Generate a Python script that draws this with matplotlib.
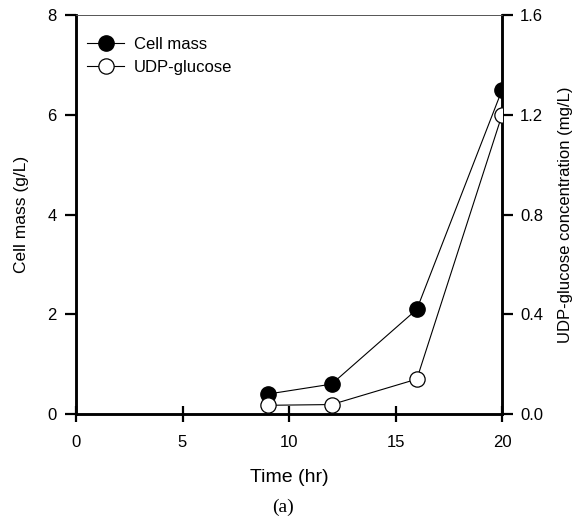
import matplotlib.pyplot as plt

plt.rcParams['font.family'] = ['Liberation Sans', 'DejaVu Sans']

# data
time = [9, 12, 16, 20]
cell_mass = [0.4, 0.6, 2.1, 6.5]
udp_glucose = [0.035, 0.038, 0.14, 1.2]

fig = plt.figure(figsize=(5.82, 5.2), dpi=100)
ax = fig.add_axes([0.1306, 0.2038, 0.732, 0.767])
ax2 = ax.twinx()

l1, = ax.plot(time, cell_mass, '-o', color='k', lw=0.8, ms=11,
              mfc='k', mec='k', label='Cell mass', zorder=3)
l2, = ax2.plot(time, udp_glucose, '-o', color='k', lw=0.8, ms=11,
               mfc='white', mec='k', mew=0.9, label='UDP-glucose', zorder=3)

ax.set_xlim(0, 20)
ax.set_ylim(0, 8)
ax2.set_ylim(0, 1.6)
ax.set_xticks([0, 5, 10, 15, 20])
ax.set_yticks([0, 2, 4, 6, 8])
ax2.set_yticks([0.0, 0.4, 0.8, 1.2, 1.6])
ax2.set_yticklabels(['0.0', '0.4', '0.8', '1.2', '1.6'])

for a in (ax, ax2):
    a.tick_params(direction='out', length=8, width=1.6, labelsize=12)
    for s in a.spines.values():
        s.set_linewidth(1.8)
    a.spines['top'].set_linewidth(0.6)
    a.spines['top'].set_color('#555555')
ax.tick_params(axis='y', pad=6)
ax2.tick_params(axis='y', pad=5)
ax.tick_params(axis='x', direction='inout', length=12, pad=9)

ax.set_xlabel('Time (hr)', fontsize=14)
ax.xaxis.set_label_coords(0.5, -0.158)
ax.xaxis.label.set_va('center')
ax.set_ylabel('Cell mass (g/L)', fontsize=12.5)
ax.yaxis.set_label_coords(-0.127, 0.5)
ax.yaxis.label.set_va('center')
ax2.set_ylabel('UDP-glucose concentration (mg/L)', fontsize=12)
ax2.yaxis.set_label_coords(1.148, 0.5)
ax2.yaxis.label.set_va('center')

ax.legend([l1, l2], ['Cell mass', 'UDP-glucose'], loc='upper left',
          bbox_to_anchor=(-0.02, 0.995), frameon=False, fontsize=12,
          handlelength=2.2, borderaxespad=0.8, labelspacing=0.45,
          handletextpad=0.6)

fig.text(0.486, 0.025, '(a)', ha='center', va='center', fontsize=14,
         family=['Liberation Serif', 'DejaVu Serif'])

fig.savefig('out.png', dpi=100)
